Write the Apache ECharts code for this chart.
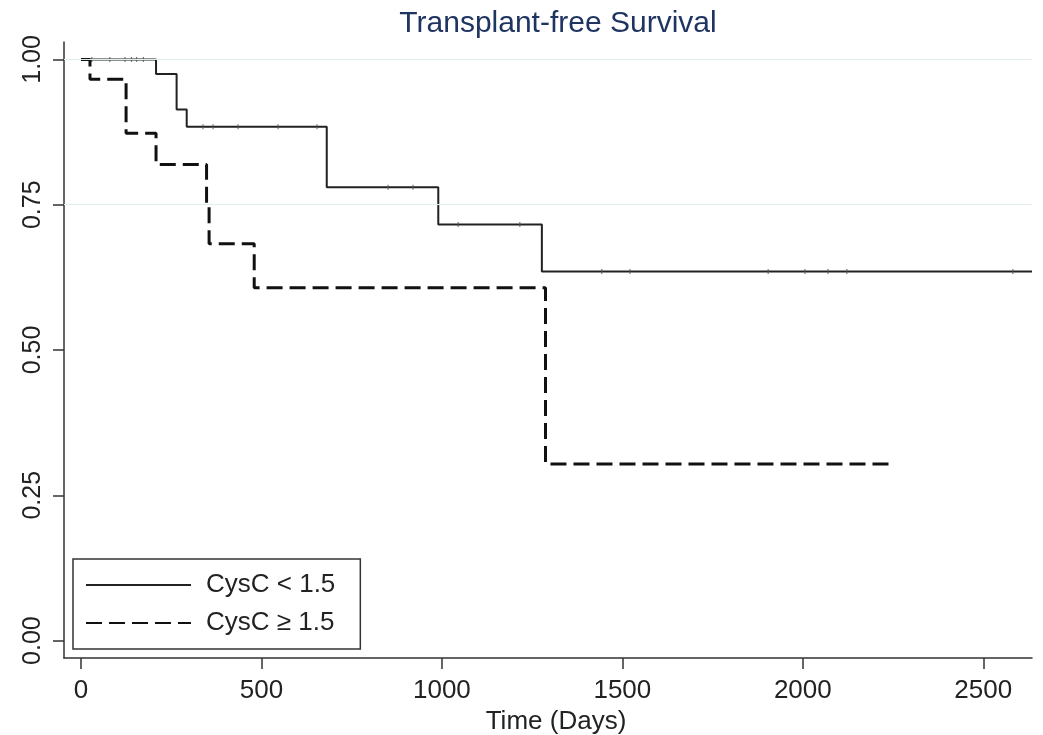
<!DOCTYPE html>
<html>
<head>
<meta charset="utf-8">
<script src="https://cdn.jsdelivr.net/npm/echarts@6/dist/echarts.min.js"></script>
<style>
  html, body { margin: 0; padding: 0; background: #fff; }
  #chart { width: 1043px; height: 735px; }
</style>
</head>
<body>
<div id="chart"></div>
<script>
// CysC < 1.5 : event times (days) and survival after each step
const lowTimes = [0, 208, 265, 293, 681, 990, 1277, 2635];
const lowSurv = [1.0, 0.975, 0.914, 0.884, 0.780, 0.716, 0.635, 0.635];
// censored times on the CysC < 1.5 curve
const lowCensor = [30, 80, 122, 140, 154, 173, 338, 366, 435, 546, 654, 851, 920, 1045, 1216, 1443, 1521, 1904, 2006, 2070, 2122, 2582];

// CysC >= 1.5
const highTimes = [0, 25, 125, 208, 348, 355, 480, 1287, 2246];
const highSurv = [1.0, 0.966, 0.873, 0.819, 0.751, 0.683, 0.607, 0.304, 0.304];

const xTicks = [0, 500, 1000, 1500, 2000, 2500];
const yTicks = [0, 0.25, 0.5, 0.75, 1];
const gridValues = [1, 0.75];

const seriesNames = ['CysC < 1.5', 'CysC \u2265 1.5'];

// 把删失时间对应到曲线上的生存率
function survAt(times, surv, t) {
  let s = surv[0];
  for (let i = 0; i < times.length; i++) {
    if (times[i] <= t) s = surv[i];
  }
  return s;
}

const FONT = 'Liberation Sans, Arial, Helvetica, sans-serif';

let myChart = echarts.init(document.getElementById('chart'));
let option = {
  animation: false,
  backgroundColor: '#ffffff',
  title: {
    text: 'Transplant-free Survival',
    left: 553,
    textAlign: 'center',
    top: 4,
    textStyle: {
      fontFamily: FONT,
      fontSize: 30,
      fontWeight: 'normal',
      color: '#1f3460'
    }
  },
  legend: {
    data: seriesNames,
    orient: 'vertical',
    left: 73,
    top: 559,
    itemWidth: 105,
    itemHeight: 20,
    itemGap: 12,
    padding: [13, 25, 13, 12],
    borderColor: '#333',
    borderWidth: 1.5,
    backgroundColor: '#fff',
    itemStyle: { opacity: 0 },
    textStyle: {
      fontFamily: FONT,
      fontSize: 26,
      color: '#222',
      padding: [0, 0, 0, 10]
    }
  },
  grid: {
    left: 64,
    right: 11,
    top: 42,
    bottom: 77,
    containLabel: false,
    outerBoundsMode: 'none'
  },
  xAxis: {
    type: 'value',
    min: -47,
    max: 2635,
    name: 'Time (Days)',
    nameLocation: 'middle',
    nameGap: 48,
    nameTextStyle: {
      fontFamily: FONT,
      fontSize: 26,
      color: '#222',
      padding: [0, 0, 0, 16]
    },
    axisLine: { onZero: false, lineStyle: { color: '#333', width: 1.5 } },
    axisTick: { customValues: xTicks, length: 11, lineStyle: { color: '#333', width: 1.5 } },
    axisLabel: {
      customValues: xTicks,
      margin: 20,
      fontFamily: FONT,
      fontSize: 26,
      color: '#222',
      formatter: v => String(v)
    },
    splitLine: { show: false }
  },
  yAxis: {
    type: 'value',
    min: -0.03,
    max: 1.03,
    axisLine: { show: true, onZero: false, lineStyle: { color: '#333', width: 1.5 } },
    axisTick: { show: true, customValues: yTicks, length: 11, lineStyle: { color: '#333', width: 1.5 } },
    axisLabel: {
      customValues: yTicks,
      rotate: 90,
      margin: 18,
      fontFamily: FONT,
      fontSize: 25,
      color: '#222',
      formatter: v => v.toFixed(2)
    },
    splitLine: { show: false }
  },
  series: [
    {
      name: seriesNames[0],
      type: 'line',
      step: 'end',
      symbol: 'none',
      data: lowTimes.map((t, i) => [t, lowSurv[i]]),
      lineStyle: { color: '#222', width: 2, type: 'solid' },
      itemStyle: { color: '#222' },
      z: 3,
      markLine: {
        silent: true,
        symbol: 'none',
        label: { show: false },
        lineStyle: { color: '#e3eded', width: 1, type: 'solid' },
        data: gridValues.map(v => ({ yAxis: v }))
      }
    },
    {
      name: seriesNames[1],
      type: 'line',
      step: 'end',
      symbol: 'none',
      data: highTimes.map((t, i) => [t, highSurv[i]]),
      lineStyle: { color: '#111', width: 3, type: [16, 7] },
      itemStyle: { color: '#111' },
      z: 4
    },
    {
      name: 'censored',
      type: 'scatter',
      symbol: 'rect',
      symbolSize: [1.2, 5],
      data: lowCensor.map(t => [t, survAt(lowTimes, lowSurv, t)]),
      itemStyle: { color: '#555' },
      silent: true,
      z: 3
    }
  ]
};
myChart.setOption(option);
</script>
</body>
</html>
